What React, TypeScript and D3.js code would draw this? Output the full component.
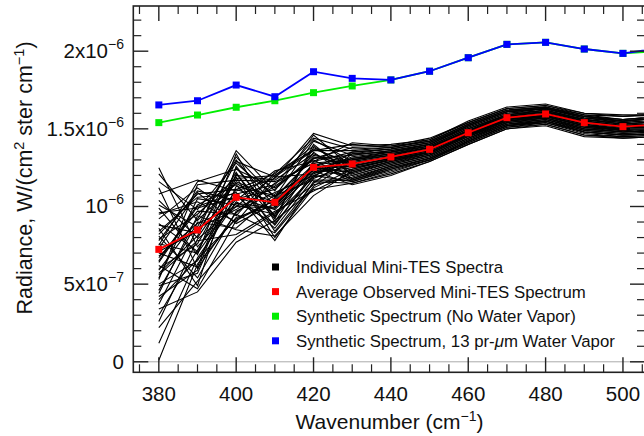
import React from "react";
import * as d3 from "d3";

const wavenumbers = [380, 390, 400, 410, 420, 430, 440, 450, 460, 470, 480, 490, 500, 510];

// W/(cm^2 ster cm^-1), units of 1e-6
const avgObserved = [0.724, 0.849, 1.059, 1.027, 1.252, 1.274, 1.319, 1.368, 1.475, 1.572, 1.596, 1.54, 1.514, 1.53];
const synthNoWater = [1.54, 1.589, 1.639, 1.681, 1.733, 1.776, 1.815, 1.871, 1.958, 2.044, 2.057, 2.014, 1.986, 2.0];
const synthWater = [1.654, 1.681, 1.782, 1.707, 1.868, 1.825, 1.815, 1.871, 1.958, 2.044, 2.057, 2.014, 1.986, 2.02];

// Individual Mini-TES spectra, units of 1e-7
const individualSpectra: number[][] = [
  [12.5, 7.4, 10.2, 9.9, 12.4, 13.1, 13.5, 13.9, 15.0, 15.9, 16.2, 15.6, 15.3, 15.5],
  [11.6, 9.8, 12.8, 10.6, 13.1, 13.3, 13.6, 14.0, 15.1, 16.0, 16.3, 15.7, 15.4, 15.6],
  [10.8, 11.7, 11.0, 11.8, 14.7, 13.9, 14.0, 14.3, 15.5, 16.4, 16.6, 16.0, 15.9, 15.9],
  [9.9, 6.9, 13.4, 9.0, 12.9, 14.1, 13.9, 14.4, 15.4, 16.3, 16.5, 15.9, 15.8, 16.0],
  [9.2, 11.2, 9.4, 12.2, 13.6, 13.6, 13.8, 14.2, 15.3, 16.2, 16.4, 15.8, 15.6, 15.8],
  [8.8, 8.3, 12.2, 8.4, 11.5, 13.4, 13.5, 14.0, 15.2, 16.1, 16.3, 15.7, 15.5, 15.7],
  [8.4, 10.6, 10.8, 11.4, 14.3, 12.9, 13.3, 13.8, 14.9, 15.8, 16.1, 15.5, 15.2, 15.4],
  [8.1, 5.4, 9.7, 10.9, 12.0, 13.0, 13.4, 13.8, 14.9, 15.9, 16.1, 15.6, 15.3, 15.5],
  [7.9, 9.5, 11.9, 8.0, 11.2, 12.4, 13.0, 13.5, 14.6, 15.6, 15.8, 15.2, 15.0, 15.1],
  [7.6, 7.0, 10.5, 11.1, 13.3, 12.8, 13.2, 13.7, 14.8, 15.7, 16.0, 15.4, 15.1, 15.3],
  [7.3, 10.9, 8.9, 10.2, 12.6, 12.6, 13.1, 13.6, 14.7, 15.6, 15.9, 15.3, 15.0, 15.2],
  [7.0, 6.1, 12.5, 9.4, 11.9, 13.5, 13.7, 14.1, 15.2, 16.1, 16.3, 15.8, 15.5, 15.7],
  [6.8, 8.9, 10.0, 12.0, 13.9, 12.1, 12.8, 13.3, 14.4, 15.4, 15.7, 15.0, 14.8, 14.9],
  [6.5, 10.1, 11.4, 8.8, 12.2, 12.5, 13.0, 13.5, 14.6, 15.5, 15.8, 15.2, 14.9, 15.1],
  [6.2, 4.7, 9.1, 10.4, 12.7, 12.9, 13.3, 13.8, 14.9, 15.8, 16.1, 15.5, 15.2, 15.4],
  [5.9, 9.2, 13.0, 10.0, 13.5, 11.8, 12.6, 13.2, 14.3, 15.3, 15.6, 14.9, 14.7, 14.8],
  [5.6, 7.8, 8.2, 9.7, 11.0, 12.2, 12.9, 13.4, 14.5, 15.5, 15.7, 15.1, 14.9, 15.0],
  [5.3, 11.4, 11.7, 11.6, 12.8, 11.6, 12.3, 13.0, 14.1, 15.1, 15.4, 14.7, 14.5, 14.6],
  [5.0, 6.5, 10.7, 8.6, 11.8, 12.8, 13.2, 13.7, 14.8, 15.7, 16.0, 15.4, 15.1, 15.3],
  [4.6, 9.0, 8.6, 10.8, 12.3, 11.4, 12.0, 12.9, 14.0, 15.0, 15.2, 14.5, 14.4, 14.5],
  [4.2, 5.9, 12.1, 9.2, 14.0, 12.0, 12.7, 13.3, 14.4, 15.4, 15.6, 15.0, 14.8, 14.9],
  [3.7, 8.6, 9.8, 11.3, 13.0, 11.7, 12.4, 13.1, 14.2, 15.2, 15.5, 14.8, 14.6, 14.7],
  [3.0, 7.2, 11.1, 10.3, 12.5, 12.2, 12.8, 13.4, 14.5, 15.4, 15.7, 15.1, 14.8, 15.0],
  [2.2, 5.2, 8.0, 9.6, 11.4, 11.9, 12.6, 13.2, 14.3, 15.3, 15.5, 14.9, 14.7, 14.8],
  [1.2, 6.7, 10.3, 8.9, 12.0, 11.6, 12.4, 13.0, 14.2, 15.2, 15.4, 14.8, 14.6, 14.7],
  [0.1, 6.3, 9.3, 10.1, 12.6, 11.8, 12.5, 13.1, 14.2, 15.2, 15.5, 14.8, 14.6, 14.7],
  [10.4, 8.0, 11.6, 10.5, 13.2, 12.7, 13.2, 13.7, 14.8, 15.7, 16.0, 15.4, 15.1, 15.3],
  [9.5, 10.3, 9.0, 11.9, 12.1, 13.1, 13.4, 13.9, 15.0, 15.9, 16.2, 15.6, 15.3, 15.5],
  [8.6, 4.9, 12.6, 9.3, 13.8, 12.6, 13.1, 13.6, 14.7, 15.6, 15.9, 15.3, 15.0, 15.2],
  [7.8, 11.0, 10.4, 12.3, 12.9, 13.5, 13.7, 14.1, 15.2, 16.1, 16.3, 15.7, 15.5, 15.7],
  [7.1, 8.4, 13.6, 11.0, 14.6, 12.5, 13.0, 13.5, 14.6, 15.6, 15.8, 15.2, 15.0, 15.1],
  [6.7, 9.7, 9.5, 8.3, 11.3, 13.0, 13.3, 13.8, 14.9, 15.8, 16.1, 15.5, 15.2, 15.4],
  [6.0, 7.6, 12.0, 11.7, 13.4, 12.3, 12.9, 13.5, 14.6, 15.5, 15.8, 15.2, 14.9, 15.1],
  [5.4, 10.5, 10.1, 9.5, 12.4, 12.6, 13.1, 13.6, 14.7, 15.6, 15.9, 15.3, 15.0, 15.2],
  [4.9, 5.7, 11.3, 10.7, 11.7, 11.7, 12.5, 13.1, 14.2, 15.2, 15.5, 14.8, 14.6, 14.7],
  [4.4, 9.4, 8.5, 8.1, 10.7, 12.3, 12.9, 13.4, 14.5, 15.5, 15.7, 15.1, 14.9, 15.0],
  [8.9, 7.1, 11.8, 12.0, 13.7, 12.8, 13.2, 13.7, 14.8, 15.7, 16.0, 15.4, 15.1, 15.3],
  [9.6, 9.9, 10.6, 9.8, 12.2, 13.2, 13.5, 13.9, 15.0, 15.9, 16.2, 15.6, 15.3, 15.5],
  [10.1, 8.7, 13.2, 10.6, 14.2, 13.3, 13.6, 14.0, 15.1, 16.0, 16.2, 15.6, 15.4, 15.6],
  [11.2, 6.0, 9.6, 11.5, 12.8, 13.0, 13.4, 13.8, 14.9, 15.8, 16.1, 15.5, 15.2, 15.4],
  [6.4, 10.0, 10.9, 7.8, 11.6, 11.5, 12.2, 13.0, 14.1, 15.1, 15.3, 14.6, 14.5, 14.6],
  [3.4, 4.5, 7.7, 9.1, 11.1, 11.5, 12.1, 12.9, 14.0, 15.0, 15.3, 14.6, 14.4, 14.5],
  [7.5, 11.6, 12.4, 11.2, 13.1, 13.8, 13.9, 14.2, 15.3, 16.2, 16.4, 15.8, 15.6, 15.8],
  [12.1, 9.1, 11.5, 10.0, 12.6, 13.4, 13.7, 14.1, 15.2, 16.1, 16.3, 15.8, 15.5, 15.7],
  [5.7, 8.1, 12.9, 11.9, 13.6, 14.0, 13.8, 14.3, 15.4, 16.3, 16.5, 16.0, 15.8, 15.9],
  [2.6, 7.9, 10.0, 9.9, 12.4, 12.0, 12.7, 13.3, 14.4, 15.3, 15.6, 15.0, 14.8, 14.9],
  [8.2, 10.8, 11.1, 12.1, 14.4, 13.7, 13.8, 14.2, 15.3, 16.2, 16.4, 15.9, 15.6, 15.8],
  [4.0, 6.6, 9.2, 10.4, 11.9, 12.4, 13.0, 13.5, 14.6, 15.5, 15.8, 15.2, 14.9, 15.1],
];

const xMajorTicks = [380, 400, 420, 440, 460, 480, 500];
const yTickLabels: { v: number; base: string; exp: string }[] = [
  { v: 0, base: "0", exp: "" },
  { v: 0.5e-6, base: "5x10", exp: "\u22127" },
  { v: 1e-6, base: "10", exp: "\u22126" },
  { v: 1.5e-6, base: "1.5x10", exp: "\u22126" },
  { v: 2e-6, base: "2x10", exp: "\u22126" },
];

const legendItems = [
  { color: "#000000", label: "Individual Mini-TES Spectra" },
  { color: "#ff0000", label: "Average Observed Mini-TES Spectrum" },
  { color: "#00ee00", label: "Synthetic Spectrum (No Water Vapor)" },
  { color: "#0000ff", label: "SYNTH" },
];

const W = 644;
const H = 436;
const L = 133.3;
const R = 645;
const T = 6;
const B = 372.3;
const FONT = "'Liberation Sans', Arial, Helvetica, sans-serif";

export default function App() {
  const x = d3.scaleLinear().domain([373.4, 505.7]).range([L, R]);
  const y = d3.scaleLinear().domain([-0.0676e-6, 2.291e-6]).range([B, T]);

  const line = d3
    .line<[number, number]>()
    .x((d) => x(d[0]))
    .y((d) => y(d[1]));

  const pts = (vals: number[], scale: number) =>
    wavenumbers.map((w, i) => [w, vals[i] * scale] as [number, number]);

  const xMinor = d3.range(375, 506, 5).filter((v) => v % 20 !== 0);
  const yMinor = d3.range(1, 23).filter((v) => v % 5 !== 0).map((v) => v * 1e-7);
  const yMajor = [0, 0.5e-6, 1e-6, 1.5e-6, 2e-6];
  const axisColor = "#222";
  const majorLen = 15;
  const minorLen = 8;

  const markerSize = 7;
  const series = [
    { vals: avgObserved, color: "#ff0000" },
    { vals: synthNoWater, color: "#00ee00" },
    { vals: synthWater, color: "#0000ff" },
  ];

  return (
    <div style={{ position: "absolute", left: 0, top: 0, width: W, height: H, overflow: "hidden", background: "#fff" }}>
      <svg width={W} height={H} style={{ display: "block", fontFamily: FONT }}>
        <defs>
          <clipPath id="plotclip">
            <rect x={L} y={T} width={R - L} height={B - T} />
          </clipPath>
        </defs>
        <rect x={0} y={0} width={W} height={H} fill="#fff" />

        {/* zero line */}
        <line x1={L} x2={R} y1={y(0)} y2={y(0)} stroke="#aaa" strokeWidth={1} />

        <g clipPath="url(#plotclip)">
          {individualSpectra.map((s, i) => (
            <path key={i} d={line(pts(s, 1e-7)) || ""} fill="none" stroke="#000" strokeWidth={1.1} strokeLinejoin="miter" />
          ))}
          {series.map((s, i) => (
            <g key={i}>
              <path d={line(pts(s.vals, 1e-6)) || ""} fill="none" stroke={s.color} strokeWidth={1.8} />
              {wavenumbers.map((w, j) => (
                <rect
                  key={j}
                  x={x(w) - markerSize / 2}
                  y={y(s.vals[j] * 1e-6) - markerSize / 2}
                  width={markerSize}
                  height={markerSize}
                  fill={s.color}
                />
              ))}
            </g>
          ))}
        </g>

        {/* frame */}
        <rect x={L} y={T} width={R - L} height={B - T} fill="none" stroke={axisColor} strokeWidth={1.6} />

        {/* x ticks bottom and top */}
        {xMajorTicks.map((v) => (
          <g key={"xM" + v}>
            <line x1={x(v)} x2={x(v)} y1={B} y2={B - majorLen} stroke={axisColor} strokeWidth={1.4} />
            <line x1={x(v)} x2={x(v)} y1={T} y2={T + majorLen} stroke={axisColor} strokeWidth={1.4} />
            <text x={x(v)} y={401} textAnchor="middle" fontSize={20.5} fill="#111">
              {v}
            </text>
          </g>
        ))}
        {xMinor.map((v) => (
          <g key={"xm" + v}>
            <line x1={x(v)} x2={x(v)} y1={B} y2={B - minorLen} stroke={axisColor} strokeWidth={1.2} />
            <line x1={x(v)} x2={x(v)} y1={T} y2={T + minorLen} stroke={axisColor} strokeWidth={1.2} />
          </g>
        ))}

        {/* y ticks left and right */}
        {yMajor.map((v) => (
          <g key={"yM" + v}>
            <line x1={L} x2={L + majorLen} y1={y(v)} y2={y(v)} stroke={axisColor} strokeWidth={1.4} />
            <line x1={R} x2={R - majorLen} y1={y(v)} y2={y(v)} stroke={axisColor} strokeWidth={1.4} />
          </g>
        ))}
        {yMinor.map((v) => (
          <g key={"ym" + v}>
            <line x1={L} x2={L + minorLen} y1={y(v)} y2={y(v)} stroke={axisColor} strokeWidth={1.2} />
            <line x1={R} x2={R - minorLen} y1={y(v)} y2={y(v)} stroke={axisColor} strokeWidth={1.2} />
          </g>
        ))}
        {yTickLabels.map((t) => (
          <text key={"yl" + t.v} x={124} y={y(t.v) + 7} textAnchor="end" fontSize={20.5} fill="#111">
            {t.base}
            {t.exp ? (
              <tspan dy={-9} fontSize={14}>
                {t.exp}
              </tspan>
            ) : null}
          </text>
        ))}

        {/* axis titles */}
        <text x={389.5} y={429} textAnchor="middle" fontSize={21} fill="#111">
          Wavenumber (cm
          <tspan dy={-8} fontSize={14}>
            {"\u22121"}
          </tspan>
          <tspan dy={8}>)</tspan>
        </text>
        <text transform="translate(32,178) rotate(-90)" textAnchor="middle" fontSize={21.5} fill="#111">
          Radiance, W/(cm
          <tspan dy={-8.5} fontSize={14.5}>
            2
          </tspan>
          <tspan dy={8.5}> ster cm</tspan>
          <tspan dy={-8.5} fontSize={14.5}>
            {"\u22121"}
          </tspan>
          <tspan dy={8.5}>)</tspan>
        </text>

        {/* legend */}
        {legendItems.map((it, i) => {
          const cy = 267 + i * 24.6;
          return (
            <g key={"lg" + i}>
              <rect x={272} y={cy - 3.5} width={7} height={7} fill={it.color} />
              <text x={296} y={cy + 6} fontSize={16.8} fill="#111">
                {it.label === "SYNTH" ? (
                  <>
                    Synthetic Spectrum, 13 pr-<tspan fontStyle="italic">μ</tspan>m Water Vapor
                  </>
                ) : (
                  it.label
                )}
              </text>
            </g>
          );
        })}
      </svg>
    </div>
  );
}
